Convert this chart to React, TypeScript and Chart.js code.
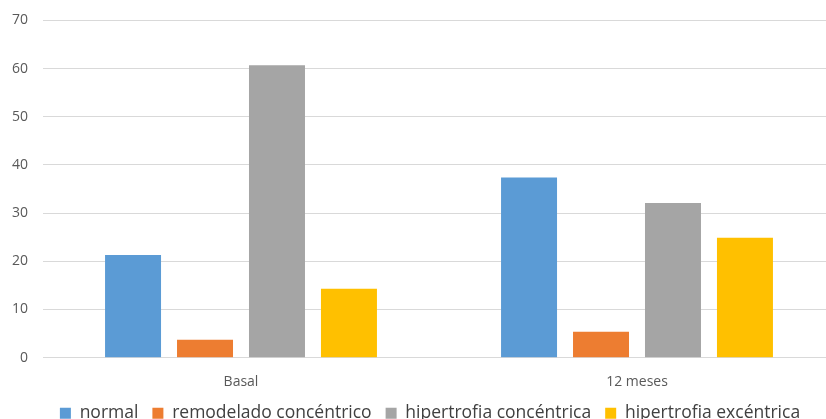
import React, { useEffect, useRef } from "react";
import { Chart, registerables } from "chart.js";

Chart.register(...registerables);

const categories = ["Basal", "12 meses"];
const seriesNames = ["normal", "remodelado concéntrico", "hipertrofia concéntrica", "hipertrofia excéntrica"];
const normal = [21.3, 37.4];
const remodelado = [3.7, 5.4];
const hipConcentrica = [60.7, 32.1];
const hipExcentrica = [14.3, 24.9];
const colors = ["#5B9BD5", "#ED7D31", "#A5A5A5", "#FFC000"];

export default function App() {
  const ref = useRef<HTMLCanvasElement | null>(null);
  useEffect(() => {
    if (!ref.current) return;
    const values = [normal, remodelado, hipConcentrica, hipExcentrica];
    const chart = new Chart(ref.current, {
      type: "bar",
      data: {
        labels: categories,
        datasets: seriesNames.map((name, i) => ({
          label: name,
          data: values[i],
          backgroundColor: colors[i],
          borderWidth: 0,
          categoryPercentage: 0.727,
          barPercentage: 0.778,
          yAxisID: "y",
        })),
      },
      options: {
        responsive: false,
        animation: false,
        layout: { padding: { top: 0, right: 0, left: 0, bottom: 0 } },
        plugins: {
          tooltip: { enabled: false },
          legend: {
            position: "bottom",
            labels: {
              font: { family: "'Open Sans', sans-serif", size: 17.5 },
              color: "#404040",
              boxWidth: 11,
              boxHeight: 11,
              padding: 14,
            },
          },
        },
        scales: {
          x: {
            grid: { display: false, drawTicks: true, tickLength: 16 },
            border: { color: "#D9D9D9" },
            ticks: { font: { family: "'Open Sans', sans-serif", size: 14 }, color: "#595959", padding: 0 },
          },
          y: {
            min: 0,
            max: 70,
            afterFit: (s: any) => { s.width = 43; },
            ticks: { stepSize: 10, font: { family: "'Open Sans', sans-serif", size: 14 }, color: "#595959", padding: 15 },
            grid: { color: "#D9D9D9", drawTicks: false },
            border: { display: false },
          },
          yRight: {
            position: "right",
            min: 0,
            max: 70,
            afterFit: (s: any) => { s.width = 25; },
            ticks: { display: false },
            grid: { display: false, drawTicks: false },
            border: { display: false },
          },
        },
      },
    });
    return () => chart.destroy();
  }, []);
  return (
    <div style={{ position: "fixed", left: 0, top: 0, width: 826, height: 419, overflow: "hidden", background: "#fff" }}>
      <canvas ref={ref} width={860} height={435} style={{ display: "block", marginTop: -3 }} />
    </div>
  );
}
